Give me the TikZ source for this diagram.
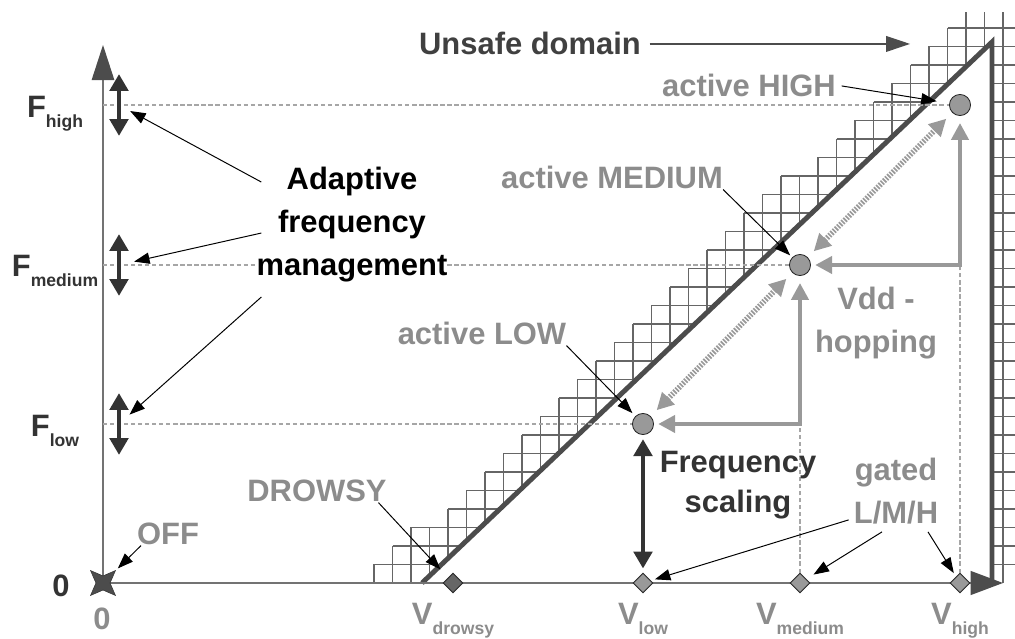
\documentclass[tikz, border=0pt]{standalone}
\usepackage[x11names]{xcolor}
\usepackage{fontspec}
\setmainfont{Liberation Sans}
\usepackage{tikz}
\usetikzlibrary{arrows.meta, shapes.geometric}

\newcommand{\vsub}[1]{\raisebox{-7pt}{\fontsize{12.5}{14}\selectfont #1}}

\begin{document}
\begin{tikzpicture}[x = 0.25mm, y = -0.25mm,
        lbl/.style = {font = \fontsize{22}{30.6}\selectfont\bfseries, inner sep = 0pt},
        dark/.style = {lbl, text = black!80},
        pale/.style = {lbl, text = black!45},
        gridline/.style = {black!60, line width = 1pt},
        guide/.style = {black!35, line width = 0.8pt, dash pattern = on 3pt off 2pt},
        pointer/.style = {black, line width = 0.7pt, -{Triangle[length = 11pt, width = 8pt]}},
        opstate/.style = {circle, draw = black!85, fill = black!40, minimum size = 15pt, inner sep = 0pt, line width = 0.6pt},
        vpoint/.style = {diamond, draw = black!85, fill = black!40, minimum width = 14pt, minimum height = 14pt, inner sep = 0pt, line width = 0.6pt},
        hop/.style = {black!40, line width = 3.5pt, line join = miter, {Triangle[length = 12pt, width = 12pt]}-{Triangle[length = 12pt, width = 12pt]}},
        hopdiag/.style = {hop, line width = 4pt, dash pattern = on 1.2pt off 1pt},
        tune/.style = {black!80, line width = 3.5pt, {Triangle[length = 12pt, width = 13pt]}-{Triangle[length = 12pt, width = 13pt]}},
    ]
    \useasboundingbox (0, 0) rectangle (1015, 639);

    % hatched unsafe region
    \foreach \i in {0, ..., 34} {
        \pgfmathsetmacro{\gx}{374 + 18.5*\i}
        \pgfmathsetmacro{\gbot}{\gx > 992 ? 583 : min(583, 583 - (\gx - 422)*0.949)}
        \pgfmathsetmacro{\gtop}{max(12, 583 - 18.5*round((\gx - 422)*0.949/18.5 + 3.1))}
        \draw [gridline] (\gx, \gbot) -- (\gx, \gtop);
    }
    \foreach \j in {1, ..., 30} {
        \pgfmathsetmacro{\gy}{583 - 18.5*\j}
        \pgfmathsetmacro{\gleft}{374 + 18.5*max(0, ceil((48 + (\j - 3.6)*19.494)/18.5))}
        \pgfmathsetmacro{\gright}{min(992, 422 + 18.5*\j/0.949)}
        \draw [gridline] (\gleft, \gy) -- (\gright, \gy) (992, \gy) -- (1015, \gy);
    }
    \draw [black!70, line width = 3.5pt, line join = miter] (422, 583) -- (992, 42) -- (992, 583);

    % axes
    \coordinate (origin) at (103, 583);
    \draw [black!55, line width = 1pt, -{Triangle[length = 25pt, width = 16pt, color = black!70]}] (origin) -- (103, 45);
    \draw [black!55, line width = 1pt, -{Triangle[length = 23pt, width = 17pt, color = black!70]}] (origin) -- (1003, 583);

    \node [opstate] (high) at (960, 105) {};
    \node [opstate] (medium) at (800, 265) {};
    \node [opstate] (low) at (643, 424) {};
    \node [vpoint, fill = black!60] (vdrowsy) at (453, 583) {};
    \node [vpoint] (vlow) at (643, 583) {};
    \node [vpoint] (vmedium) at (800, 583) {};
    \node [vpoint] (vhigh) at (960, 583) {};
    \node [star, star points = 4, star point ratio = 0.4, fill = black!70, draw = black!80, line width = 0.4pt, minimum size = 10pt, inner sep = 0pt] (off) at (origin) {};

    \foreach \lvl in {high, medium, low}
        \draw [guide] (origin |- \lvl) -- (\lvl.west);
    \draw [guide] (vmedium.north) -- (medium |- low);
    \draw [guide] (vhigh.north) -- (high |- medium);

    \draw [hop, shorten < = 5pt, shorten > = 3pt] (medium.south) -- (medium |- low) -- (low.east);
    \draw [hop, shorten < = 5pt, shorten > = 3pt] (high.south) -- (high |- medium) -- (medium.east);
    \draw [hopdiag, shorten < = 6pt, shorten > = 6pt] (low) -- (medium);
    \draw [hopdiag, shorten < = 6pt, shorten > = 6pt] (medium) -- (high);
    \draw [tune, shorten < = 3pt, shorten > = 3pt] (low) -- (vlow);

    \foreach \lvl/\y in {high/105, medium/265, low/424} {
        \coordinate (f\lvl) at (119, \y);
        \draw [tune] ([yshift = 22pt] f\lvl) -- ([yshift = -22pt] f\lvl);
    }

    \node [dark, anchor = base] (fhighlbl) at (55, 118) {F\vsub{high}};
    \node [dark, anchor = base] (fmedlbl) at (55, 277) {F\vsub{medium}};
    \node [dark, anchor = base] (flowlbl) at (55, 437) {F\vsub{low}};
    \node [dark, anchor = base] (yzero) at (61, 597) {0};
    \node [pale, anchor = base] (xzero) at (102, 630) {0};
    \foreach \lvl/\x in {drowsy/453, low/643, medium/800, high/960}
        \node [pale, anchor = base] (\lvl-v) at (\x, 625) {V\vsub{\lvl}};

    \node [lbl, text = black!75, anchor = base] (unsafe) at (530, 55) {Unsafe domain};
    \path (unsafe.east) ++(269, 0) coordinate (unsafetip);
    \draw [black!70, line width = 1.4pt, -{Triangle[length = 17pt, width = 11pt]}] ([xshift = 6pt] unsafe.east) -- (unsafetip);

    \node [pale, anchor = base] (acthigh) at (749, 97) {active HIGH};
    \node [pale, anchor = base] (actmed) at (612, 189) {active MEDIUM};
    \node [pale, anchor = base] (actlow) at (482, 345) {active LOW};
    \node [pale, anchor = base] (drowsy) at (317, 502) {DROWSY};
    \node [pale, anchor = base] (offlbl) at (168, 545) {OFF};
    \node [lbl, anchor = base, align = center, fill = white] (adapt) at (352, 276) {Adaptive\\frequency\\management};
    \node [pale, anchor = base, align = center] (vdd) at (876, 353) {Vdd -\\hopping};
    \node [dark, anchor = base, align = center] (fscale) at (738, 513) {Frequency\\[-2pt]scaling};
    \node [pale, anchor = base, align = center] (gated) at (896, 524) {gated\\L/M/H};

    \draw [pointer, shorten > = 9pt] ([xshift = 4pt] acthigh.east) -- (high);
    \draw [pointer, shorten > = 2pt] (actmed.south east) -- (medium);
    \draw [pointer, shorten > = 3pt] (actlow.south east) -- (low);
    \draw [pointer, shorten > = 8pt] ([xshift = -6pt] drowsy.south east) -- (vdrowsy);
    \draw [pointer, shorten > = 2pt] ([xshift = 3pt] offlbl.south west) -- (off);
    \draw [pointer, shorten > = 3pt] ([shift = {(-5, -5)}] gated.south west) -- (vlow);
    \draw [pointer, shorten > = 6pt] ([shift = {(-14, 7)}] gated.south) -- (vmedium);
    \draw [pointer, shorten > = 3pt] ([shift = {(32, 7)}] gated.south) -- (vhigh);
    \draw [pointer, shorten > = 9pt] ([shift = {(5, -43)}] adapt.west) -- (fhigh);
    \draw [pointer, shorten > = 11pt] ([shift = {(5, 8)}] adapt.west) -- (fmedium);
    \draw [pointer, shorten > = 10pt] ([shift = {(5, 72)}] adapt.west) -- (flow);
\end{tikzpicture}
\end{document}
